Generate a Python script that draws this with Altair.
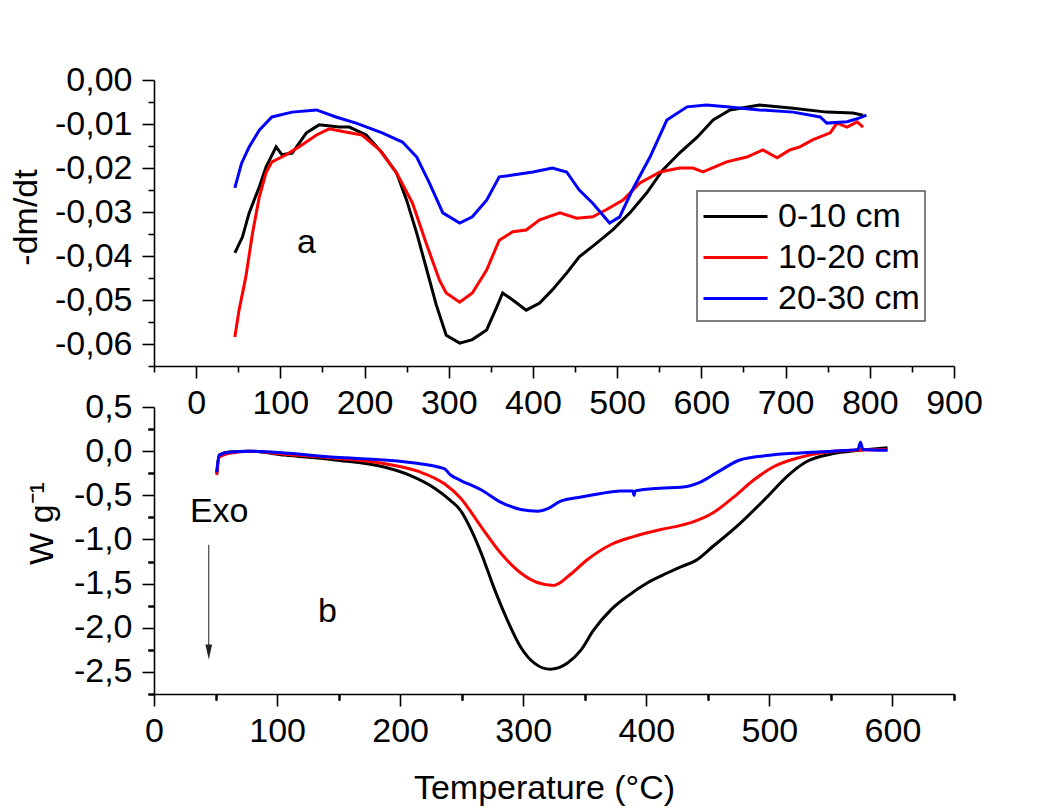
import altair as alt
import pandas as pd

DEPTHS = ["0-10 cm", "10-20 cm", "20-30 cm"]
COLORS = ["#000000", "#FF0000", "#0000FF"]
FONT = "Liberation Sans"

# ---------------- panel a : DTG (-dm/dt) ----------------
dtg_t_0_10 = [46, 55, 63, 75, 83, 95, 102, 114, 131, 146, 170, 182, 202, 221, 238, 250, 262, 273, 285, 297,
              313, 328, 345, 357, 364, 376, 392, 408, 423, 440, 455, 476, 495, 515, 535, 554, 574, 595, 614,
              634, 669, 709, 749, 780, 792]
dtg_v_0_10 = [-0.0393, -0.0357, -0.0302, -0.0243, -0.0198, -0.0152, -0.0170, -0.0166, -0.0120, -0.0102,
              -0.0107, -0.0107, -0.0125, -0.0166, -0.0211, -0.0273, -0.0348, -0.0425, -0.0510, -0.0580,
              -0.0598, -0.0590, -0.0568, -0.0516, -0.0484, -0.0500, -0.0523, -0.0507, -0.0477, -0.0439,
              -0.0402, -0.0370, -0.0340, -0.0302, -0.0257, -0.0205, -0.0166, -0.0130, -0.0091, -0.0068,
              -0.0057, -0.0064, -0.0073, -0.0075, -0.0080]

dtg_t_10_20 = [46, 51, 59, 67, 75, 83, 90, 107, 122, 143, 158, 182, 197, 218, 238, 257, 273, 289, 297, 313,
               328, 345, 360, 376, 392, 408, 432, 452, 471, 487, 507, 527, 551, 574, 590, 602, 630, 654, 673,
               690, 705, 717, 732, 753, 761, 773, 785, 792]
dtg_v_10_20 = [-0.0584, -0.0523, -0.0448, -0.0348, -0.0266, -0.0211, -0.0186, -0.0170, -0.0152, -0.0125,
               -0.0111, -0.0120, -0.0125, -0.0159, -0.0211, -0.0280, -0.0370, -0.0455, -0.0484, -0.0505,
               -0.0484, -0.0432, -0.0364, -0.0345, -0.0341, -0.0318, -0.0302, -0.0314, -0.0311, -0.0295,
               -0.0273, -0.0234, -0.0209, -0.0200, -0.0200, -0.0209, -0.0186, -0.0175, -0.0159, -0.0177,
               -0.0159, -0.0152, -0.0136, -0.0120, -0.0098, -0.0107, -0.0095, -0.0107]

dtg_t_20_30 = [46, 54, 63, 75, 90, 114, 143, 166, 190, 221, 245, 262, 277, 293, 313, 328, 345, 360, 376, 400,
               423, 440, 455, 471, 491, 503, 518, 539, 559, 583, 606, 630, 669, 709, 741, 749, 773, 788, 796]
dtg_v_20_30 = [-0.0245, -0.0189, -0.0152, -0.0114, -0.0084, -0.0073, -0.0068, -0.0084, -0.0098, -0.0120,
               -0.0141, -0.0175, -0.0234, -0.0302, -0.0325, -0.0311, -0.0273, -0.0220, -0.0216, -0.0209,
               -0.0200, -0.0209, -0.0250, -0.0280, -0.0325, -0.0311, -0.0250, -0.0175, -0.0091, -0.0061,
               -0.0057, -0.0061, -0.0068, -0.0073, -0.0084, -0.0098, -0.0095, -0.0086, -0.0080]

# ---------------- panel b : DSC (W g-1) ----------------
dsc_t_0_10 = [51, 53, 61, 77, 106, 147, 187, 209, 228, 241, 249, 258, 266, 276, 287, 298, 309, 322, 336, 347,
              357, 371, 384, 401, 417, 428, 440, 454, 476, 498, 514, 530, 551, 573, 596]
dsc_w_0_10 = [-0.25, -0.045, -0.01, 0.0, -0.045, -0.10, -0.18, -0.28, -0.42, -0.56, -0.67, -0.90, -1.16,
              -1.54, -1.91, -2.22, -2.40, -2.47, -2.40, -2.25, -2.03, -1.80, -1.65, -1.49, -1.38, -1.31,
              -1.24, -1.08, -0.82, -0.52, -0.29, -0.12, -0.03, 0.01, 0.04]

dsc_t_10_20 = [51, 53, 63, 77, 106, 147, 187, 215, 236, 249, 266, 282, 298, 312, 325, 338, 352, 371, 389, 411,
               428, 438, 454, 471, 487, 503, 525, 547, 568, 596]
dsc_w_10_20 = [-0.27, -0.07, -0.02, 0.0, -0.035, -0.08, -0.14, -0.23, -0.37, -0.53, -0.86, -1.16, -1.38,
               -1.49, -1.52, -1.40, -1.23, -1.06, -0.97, -0.89, -0.84, -0.80, -0.70, -0.52, -0.33, -0.18,
               -0.07, -0.01, 0.01, 0.02]

dsc_t_20_30 = [51, 53, 63, 77, 106, 147, 187, 215, 231, 236, 241, 249, 266, 282, 298, 312, 320, 330, 347, 363,
               379, 389, 390, 391, 411, 428, 444, 460, 476, 498, 525, 551, 572, 574, 576, 596]
dsc_w_20_30 = [-0.24, -0.045, -0.01, 0.0, -0.02, -0.07, -0.10, -0.14, -0.18, -0.20, -0.27, -0.33, -0.44,
               -0.58, -0.66, -0.68, -0.65, -0.57, -0.52, -0.48, -0.45, -0.45, -0.50, -0.45, -0.42, -0.41,
               -0.35, -0.22, -0.10, -0.05, -0.02, 0.0, 0.02, 0.10, 0.02, 0.01]

# axis tick values
top_x_major = list(range(0, 901, 100))
top_x_minor = list(range(-50, 851, 100))
top_y_major = [0.0, -0.01, -0.02, -0.03, -0.04, -0.05, -0.06]
top_y_minor = [-0.005, -0.015, -0.025, -0.035, -0.045, -0.055, -0.065]
bot_x_major = list(range(0, 601, 100))
bot_x_minor = list(range(50, 651, 100))
bot_y_major = [0.5, 0.0, -0.5, -1.0, -1.5, -2.0, -2.5]
bot_y_minor = [0.25, -0.25, -0.75, -1.25, -1.75, -2.25, -2.75]

# annotations
label_a = {"T": [131], "v": [-0.037], "t": ["a"]}
label_b = {"T": [141], "w": [-1.82], "t": ["b"]}
label_exo = {"T": [53], "w": [-0.80], "t": ["Exo"]}
arrow_line = {"T": [44.5], "w": [-1.06], "w2": [-2.24]}
arrow_head = {"T": [44.5], "w": [-2.275]}

def frame(ts, vs, name, col):
    return pd.DataFrame({"T": ts, col: vs, "depth": name})

dtg = pd.concat([frame(dtg_t_0_10, dtg_v_0_10, DEPTHS[0], "v"),
                 frame(dtg_t_10_20, dtg_v_10_20, DEPTHS[1], "v"),
                 frame(dtg_t_20_30, dtg_v_20_30, DEPTHS[2], "v")], ignore_index=True)
dsc = pd.concat([frame(dsc_t_0_10, dsc_w_0_10, DEPTHS[0], "w"),
                 frame(dsc_t_10_20, dsc_w_10_20, DEPTHS[1], "w"),
                 frame(dsc_t_20_30, dsc_w_20_30, DEPTHS[2], "w")], ignore_index=True)

W = 800
H_TOP = 286
H_BOT = 287

xs_top = alt.Scale(domain=[-50, 900], nice=False, zero=False)
ys_top = alt.Scale(domain=[-0.065, 0.0], nice=False, zero=False)
xs_bot = alt.Scale(domain=[0, 650], nice=False, zero=False)
ys_bot = alt.Scale(domain=[-2.75, 0.5], nice=False, zero=False)

color = alt.Color("depth:N", scale=alt.Scale(domain=DEPTHS, range=COLORS),
                  legend=alt.Legend(orient="none", legendX=543, legendY=111, title=None,
                                    symbolType="M-1,0L2.37,0", symbolSize=1444, symbolStrokeWidth=3,
                                    labelFont=FONT, labelFontSize=34, labelColor="black",
                                    labelOffset=35, padding=5, rowPadding=3,
                                    strokeColor="#555555", fillColor="white", labelLimit=400))

def fmt(decimals):
    return (f"replace(replace(format(datum.value, '.{decimals}f'), '.', ','), '\u2212', '-')")

def major_axis(values, orient, decimals=None, **kw):
    extra = {}
    if decimals is not None:
        extra["labelExpr"] = fmt(decimals)
    else:
        extra["format"] = "d"
    return alt.Axis(values=values, orient=orient, tickSize=12, grid=False, labelFlush=False,
                    labelOverlap=False, **extra, **kw)

def minor_axis(values, orient):
    return alt.Axis(values=values, orient=orient, tickSize=6, grid=False, labels=False,
                    domain=False, title=None)

x_top_axis = major_axis(top_x_major, "bottom", title=None, labelPadding=8)
y_top_axis = major_axis(top_y_major, "left", decimals=2, labelPadding=10,
                        title="-dm/dt", titleX=-118, titleY=137, titleAngle=270,
                        titleBaseline="alphabetic", titleAlign="center")
x_bot_axis = major_axis(bot_x_major, "bottom", labelPadding=8,
                        title="Temperature (°C)", titleX=390, titleY=104, titleBaseline="alphabetic",
                        titleAlign="center")
y_bot_axis = major_axis(bot_y_major, "left", decimals=1, labelPadding=10,
                        title="W g⁻¹", titleX=-102, titleY=116, titleAngle=270,
                        titleBaseline="alphabetic", titleAlign="center")

top_lines = alt.Chart(dtg).mark_line(strokeWidth=3).encode(
    x=alt.X("T:Q", scale=xs_top, axis=x_top_axis),
    y=alt.Y("v:Q", scale=ys_top, axis=y_top_axis),
    color=color,
    order=alt.Order("T:Q"),
)
top_text = alt.Chart(pd.DataFrame(label_a)).mark_text(
    font=FONT, fontSize=34, color="black", baseline="middle", align="center"
).encode(
    x=alt.X("T:Q", scale=xs_top, axis=minor_axis(top_x_minor, "bottom")),
    y=alt.Y("v:Q", scale=ys_top, axis=minor_axis(top_y_minor, "left")),
    text="t:N",
)
top = alt.layer(top_lines, top_text).resolve_axis(x="independent", y="independent").properties(
    width=W, height=H_TOP)

bx_minor = minor_axis(bot_x_minor, "bottom")
by_minor = minor_axis(bot_y_minor, "left")

bot_lines = alt.Chart(dsc).mark_line(strokeWidth=3, interpolate="monotone").encode(
    x=alt.X("T:Q", scale=xs_bot, axis=x_bot_axis),
    y=alt.Y("w:Q", scale=ys_bot, axis=y_bot_axis),
    color=alt.Color("depth:N", scale=alt.Scale(domain=DEPTHS, range=COLORS), legend=None),
    order=alt.Order("T:Q"),
)
bot_b = alt.Chart(pd.DataFrame(label_b)).mark_text(
    font=FONT, fontSize=34, color="black", baseline="middle", align="center"
).encode(x=alt.X("T:Q", scale=xs_bot, axis=bx_minor), y=alt.Y("w:Q", scale=ys_bot, axis=by_minor), text="t:N")
bot_exo = alt.Chart(pd.DataFrame(label_exo)).mark_text(
    font=FONT, fontSize=34, color="black", baseline="alphabetic", align="center"
).encode(x=alt.X("T:Q", scale=xs_bot, axis=bx_minor), y=alt.Y("w:Q", scale=ys_bot, axis=by_minor), text="t:N")
bot_arrow = alt.Chart(pd.DataFrame(arrow_line)).mark_rule(color="#222222", strokeWidth=1).encode(
    x=alt.X("T:Q", scale=xs_bot, axis=bx_minor),
    y=alt.Y("w:Q", scale=ys_bot, axis=by_minor),
    y2="w2:Q",
)
bot_head = alt.Chart(pd.DataFrame(arrow_head)).mark_point(
    shape="M-0.45,-1L0.45,-1L0,1Z", size=225, filled=True, color="#222222", opacity=1
).encode(x=alt.X("T:Q", scale=xs_bot, axis=bx_minor), y=alt.Y("w:Q", scale=ys_bot, axis=by_minor))
bottom = alt.layer(bot_lines, bot_b, bot_exo, bot_arrow, bot_head).resolve_axis(
    x="independent", y="independent").properties(width=W, height=H_BOT)

chart = alt.vconcat(top, bottom, spacing=41, bounds="flush").resolve_legend(
    color="independent"
).properties(
    padding={"left": 9, "top": 63, "right": 10, "bottom": 5},
    background="white",
).configure_view(stroke=None).configure_axis(
    domainColor="black", domainWidth=1.6, tickColor="black", tickWidth=1.6,
    labelFont=FONT, labelFontSize=34, labelColor="black",
    titleFont=FONT, titleFontSize=34, titleFontWeight="normal", titleColor="black",
).configure_legend(strokeWidth=1.5, cornerRadius=0)

chart.save("out.html", embed_options={"renderer": "svg", "actions": False})
